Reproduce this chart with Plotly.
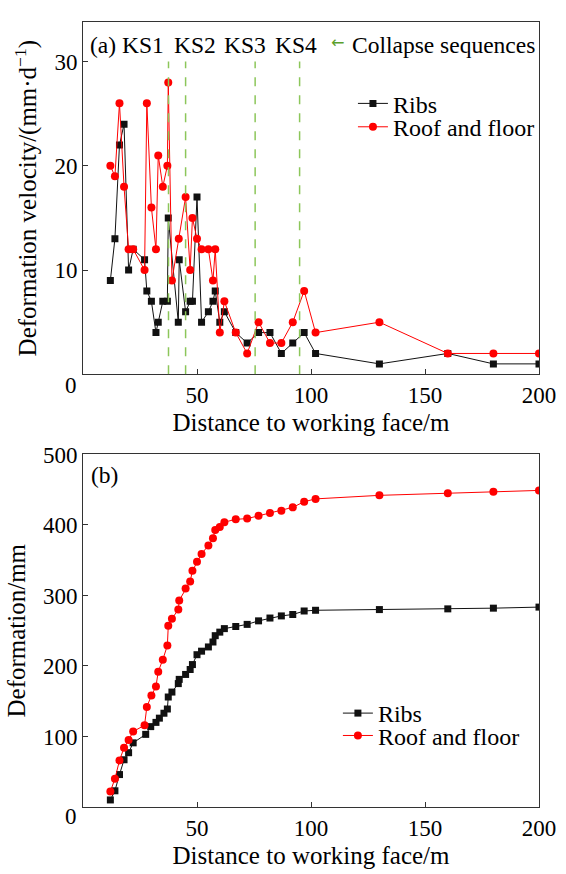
import plotly.graph_objects as go

# ---------------- data: (a) deformation velocity ----------------
ribs_v_x = [12, 14, 16, 18, 20, 22, 27, 28, 30, 32, 33, 35, 37, 37.4, 41.8, 42.2, 45, 47, 48, 50,
            52, 55, 57, 58, 60, 62, 67, 72, 77, 82, 87, 92, 97, 102, 130, 160, 180, 200]
ribs_v = [9, 13, 22, 24, 10, 12, 11, 8, 7, 4, 5, 7, 7, 15, 5, 11, 6, 7, 7, 17,
          5, 6, 7, 8, 5, 6, 4, 3, 4, 4, 2, 3, 4, 2, 1, 2, 1, 1]

roof_v_x = [12, 14, 16, 18, 20, 22, 27, 28, 30, 32, 33, 35, 37, 37.4, 39, 42, 45, 47, 48, 50,
            52, 55, 57, 58, 60, 62, 67, 72, 77, 82, 87, 92, 97, 102, 130, 160, 180, 200]
roof_v = [20, 19, 26, 18, 12, 12, 10, 26, 16, 12, 21, 18, 20, 28, 9, 13, 17, 10, 15, 13,
          12, 12, 9, 12, 4, 7, 4, 2, 5, 3, 3, 5, 8, 4, 5, 2, 2, 2]

ks_x = [37.5, 45, 75.5, 95]
ks_labels = ["KS1", "KS2", "KS3", "KS4"]

# ---------------- data: (b) cumulative deformation ----------------
ribs_d_x = [12, 14, 16, 18, 20, 22, 27.5, 29.7, 32, 33.5, 35.5, 37, 37.4, 39, 41.8, 42.2, 45, 47, 48, 50,
            52, 55, 57, 58, 60, 62, 67, 72, 77, 82, 87, 92, 97, 102, 130, 160, 180, 200]
ribs_d = [10, 23, 46, 67, 77, 91, 103, 114, 120, 126, 133, 139, 156, 163, 175, 181, 188, 195, 202, 216,
          221, 227, 234, 243, 248, 253, 256, 259, 264, 268, 271, 273, 278, 279, 280, 281, 282, 283.5]

roof_d_x = [12, 14, 16, 18, 20, 22, 27, 28, 30, 32, 33, 35, 37, 37.4, 39, 41.8, 42.2, 45, 47, 48,
            50, 52, 55, 57, 58, 60, 62, 67, 72, 77, 82, 87, 92, 97, 102, 130, 160, 180, 200]
roof_d = [22, 40, 66, 84, 95, 107, 116, 142, 158, 171, 192, 209, 229, 257, 267, 280, 293, 310, 320, 335,
          348, 359, 371, 381, 393, 397, 404, 408, 409, 413, 417, 420, 425, 433, 437, 442, 445, 447, 449]

x_ticks = [50, 100, 150, 200]
ya_ticks = [0, 10, 20, 30]
yb_ticks = [0, 100, 200, 300, 400, 500]

FONT = "Liberation Serif"
FS_TICK = 23
FS_TITLE = 25
FS_LEG = 24
FS_ANN = 23.5
BLACK = "#111111"
RED = "#ff0000"
GREEN = "#8cc65a"

fig = go.Figure()

def add_series(x, y, name, color, symbol, size, xa, ya, legend):
    fig.add_trace(go.Scatter(
        x=x, y=y, mode="lines+markers", name=name,
        line=dict(color=color, width=1),
        marker=dict(symbol=symbol, size=size, color=color),
        xaxis=xa, yaxis=ya, legend=legend, showlegend=True))

add_series(ribs_v_x, ribs_v, "Ribs", BLACK, "square", 7, "x", "y", "legend")
add_series(roof_v_x, roof_v, "Roof and floor", RED, "circle", 8, "x", "y", "legend3")
add_series(ribs_d_x, ribs_d, "Ribs", BLACK, "square", 7, "x2", "y2", "legend2")
add_series(roof_d_x, roof_d, "Roof and floor", RED, "circle", 8, "x2", "y2", "legend4")

shapes = []
for kx in ks_x:
    shapes.append(dict(type="line", xref="x", yref="y", x0=kx, x1=kx, y0=0, y1=30,
                       line=dict(color=GREEN, width=1.5, dash="dash")))

annotations = []
annotations.append(dict(xref="x", yref="y", x=2.0, y=31.6, text="(a)", showarrow=False,
                        xanchor="left", font=dict(family=FONT, size=FS_ANN, color="black")))
ks_text_x = [26.3, 49.0, 70.9, 93.4]
for tx, lab in zip(ks_text_x, ks_labels):
    annotations.append(dict(xref="x", yref="y", x=tx, y=31.6, text=lab, showarrow=False,
                            xanchor="center", font=dict(family=FONT, size=FS_ANN, color="black")))
annotations.append(dict(xref="x", yref="y", x=111.5, y=31.8, text="←", showarrow=False,
                        xanchor="center", font=dict(family="DejaVu Sans", size=16, color="#5aa02c")))
annotations.append(dict(xref="x", yref="y", x=117, y=31.6, text="Collapse sequences", showarrow=False,
                        xanchor="left", font=dict(family=FONT, size=FS_ANN, color="black")))
annotations.append(dict(xref="x2", yref="y2", x=2.5, y=471, text="(b)", showarrow=False,
                        xanchor="left", font=dict(family=FONT, size=FS_ANN, color="black")))
# the "0" labels of the y axes sit slightly below the axis corner in the reference
annotations.append(dict(xref="paper", yref="y", x=0, y=0, text="0", showarrow=False,
                        xanchor="right", xshift=-4, yshift=-11,
                        font=dict(family=FONT, size=FS_TICK, color="black")))
annotations.append(dict(xref="paper", yref="y2", x=0, y=0, text="0", showarrow=False,
                        xanchor="right", xshift=-4, yshift=-10,
                        font=dict(family=FONT, size=FS_TICK, color="black")))

axis_common = dict(showline=True, linecolor="#333333", linewidth=1, mirror=True,
                   ticks="inside", ticklen=5, tickwidth=1, tickcolor="#333333",
                   showgrid=False, zeroline=False,
                   tickfont=dict(family=FONT, size=FS_TICK, color="black"))

leg_common = dict(xanchor="left", yanchor="middle", bgcolor="rgba(0,0,0,0)",
                  font=dict(family=FONT, size=FS_LEG), itemwidth=30)

fig.update_layout(
    width=566, height=874,
    margin=dict(l=83, r=25, t=10, b=58),
    paper_bgcolor="white", plot_bgcolor="white",
    font=dict(family=FONT, size=FS_TICK, color="black"),
    xaxis=dict(domain=[0, 1], anchor="y", range=[0, 200], tickvals=x_ticks,
               title=dict(text="Distance to working face/m", standoff=6,
                          font=dict(family=FONT, size=FS_TITLE)), **axis_common),
    yaxis=dict(domain=[0.5512, 1], anchor="x", range=[0, 33.8], tickvals=ya_ticks,
               ticktext=[""] + [str(v) for v in ya_ticks[1:]],
               title=dict(text="Deformation velocity/(mm·d<sup>−1</sup>)", standoff=10,
                          font=dict(family=FONT, size=FS_TITLE)), **axis_common),
    xaxis2=dict(domain=[0, 1], anchor="y2", range=[0, 200], tickvals=x_ticks,
                title=dict(text="Distance to working face/m", standoff=6,
                           font=dict(family=FONT, size=FS_TITLE)), **axis_common),
    yaxis2=dict(domain=[0, 0.4491], anchor="x2", range=[0, 500], tickvals=yb_ticks,
                ticktext=[""] + [str(v) for v in yb_ticks[1:]],
                title=dict(text="Deformation/mm", standoff=10,
                           font=dict(family=FONT, size=FS_TITLE)), **axis_common),
    legend=dict(x=0.592, y=0.8958, **leg_common),
    legend3=dict(x=0.592, y=0.8660, **leg_common),
    legend2=dict(x=0.559, y=0.1191, **leg_common),
    legend4=dict(x=0.559, y=0.0906, **leg_common),
    shapes=shapes,
    annotations=annotations,
)

fig.write_html("out.html", config={"displayModeBar": False},
               post_script="document.body.style.margin='0';document.body.style.overflow='hidden';")
